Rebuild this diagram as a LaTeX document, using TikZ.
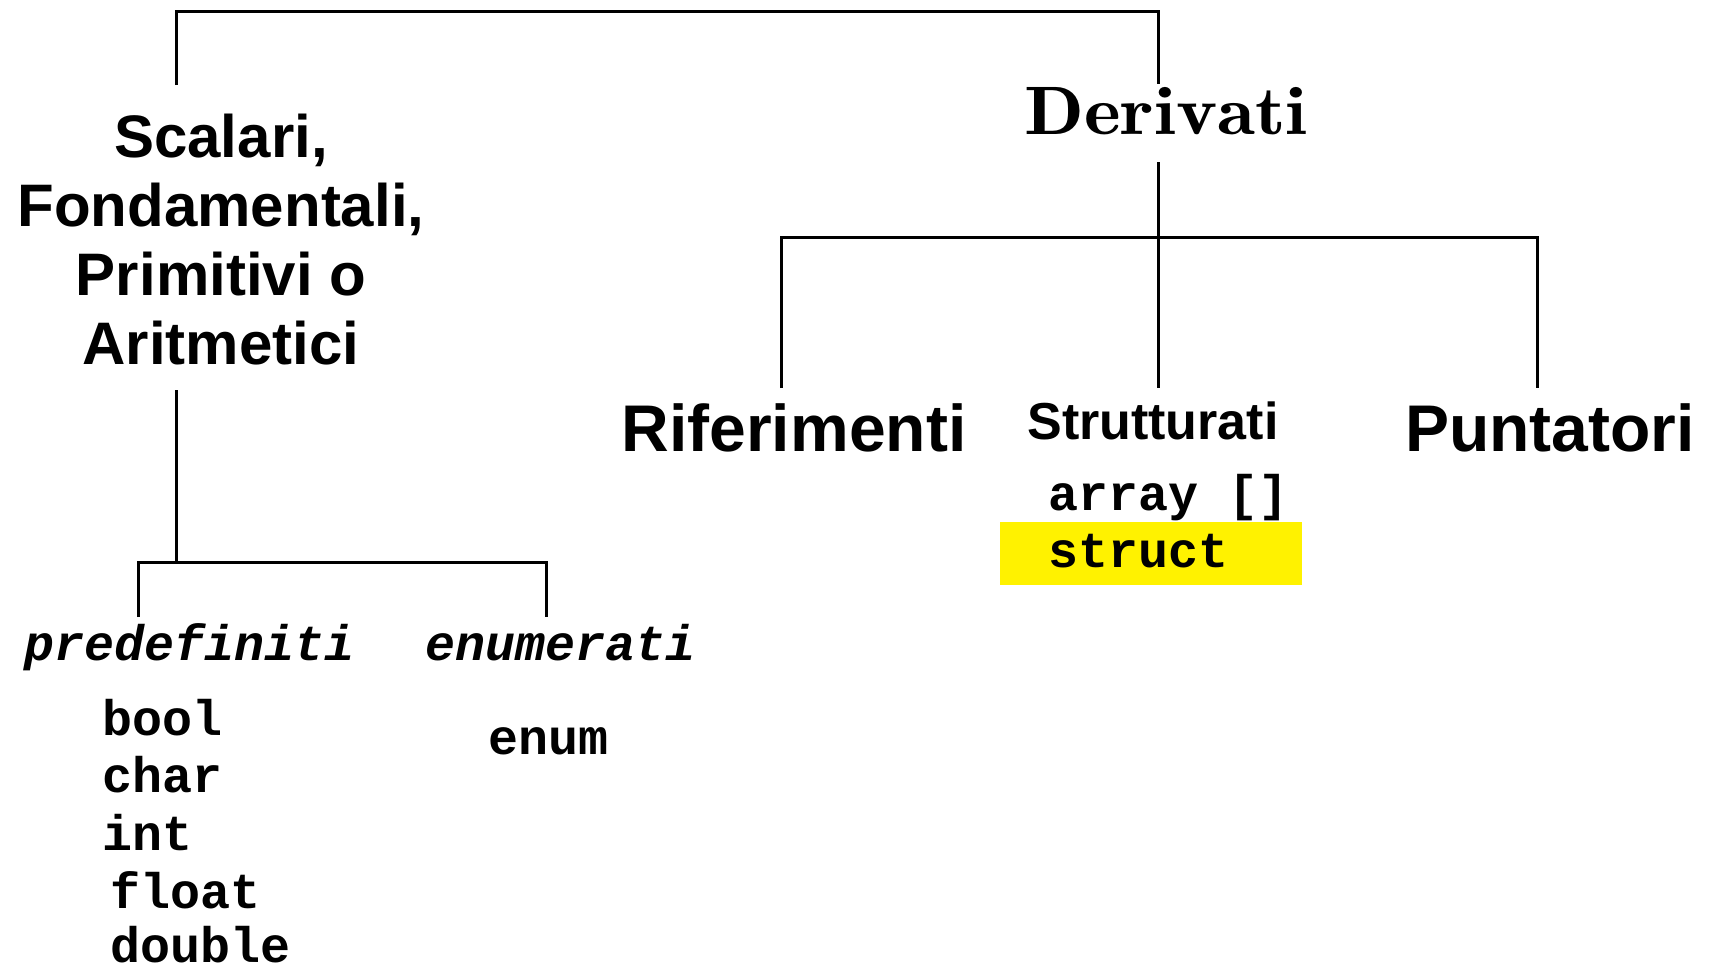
\RequirePackage{fix-cm}
\documentclass[tikz,border=0pt]{standalone}
\usepackage{fontspec}
\setsansfont{Liberation Sans}
\setmonofont{Liberation Mono}
\usepackage{tikz}
\usetikzlibrary{positioning}

\begin{document}
\begin{tikzpicture}[x=0.5pt,y=-0.5pt,
        branch/.style={black, line width=1.5pt},
        big/.style={inner sep=0pt, anchor=base, font=\sffamily\bfseries\fontsize{33}{38}\selectfont},
        kind/.style={inner sep=0pt, anchor=base, font=\ttfamily\bfseries\itshape\fontsize{25}{28}\selectfont},
        code/.style={inner sep=0pt, anchor=base west, font=\ttfamily\bfseries\fontsize{25}{28}\selectfont}]
    \useasboundingbox (0,0) rectangle (1712,966);

    % top level
    \node[inner sep=0pt, align=center, font=\sffamily\bfseries\fontsize{30}{34.5}\selectfont] (scal) at (221,240)
        {Scalari,\\Fondamentali,\\Primitivi o\\Aritmetici};
    \node[inner sep=0pt, anchor=base, font=\fontsize{34.3}{40}\selectfont] (deriv) at (1166,134) {\scalebox{1.14}[1]{$\mathbf{Derivati}$}};

    \coordinate (root)  at (667,11);
    \coordinate (sTop)  at (176,85);
    \coordinate (dTop)  at (1158,84);
    \draw[branch] (sTop) |- (root) -| (dTop);

    % scalari
    \node[kind] (predef) at (190,660) {predefiniti};
    \node[kind] (enumer) at (561,660) {enumerati};

    \coordinate (sBot)  at (176,390);
    \coordinate (sFork) at (176,562);
    \coordinate (pTop)  at (138,617);
    \coordinate (eTop)  at (546,617);
    \draw[branch] (sBot) -- (sFork);
    \draw[branch] (pTop) |- (sFork) -| (eTop);

    \node[code] (bool)   at (102,735) {bool};
    \node[code] (char)   at (102,792) {char};
    \node[code] (int)    at (102,850) {int};
    \node[code] (float)  at (110,908) {float};
    \node[code] (double) at (110,962) {double};
    \node[code] (enum)   at (488,754) {enum};

    % derivati
    \node[big] (rif)   at (794,451)  {Riferimenti};
    \node[inner sep=0pt, anchor=base, font=\sffamily\bfseries\fontsize{26}{30}\selectfont] (strut) at (1153,439) {Strutturati};
    \node[big] (punt)  at (1550,451) {Puntatori};

    \coordinate (dBot)  at (1158,162);
    \coordinate (dFork) at (1158,237);
    \coordinate (rTop)  at (781,388);
    \coordinate (stTop) at (1158,388);
    \coordinate (puTop) at (1537,388);
    \draw[branch] (dBot) -- (stTop);
    \draw[branch] (rTop) |- (dFork) -| (puTop);

    \fill[yellow] (1000,522) rectangle (1302,585);
    \node[code] (array)  at (1048,510) {array []};
    \node[code] (struct) at (1048,567) {struct};
\end{tikzpicture}
\end{document}
